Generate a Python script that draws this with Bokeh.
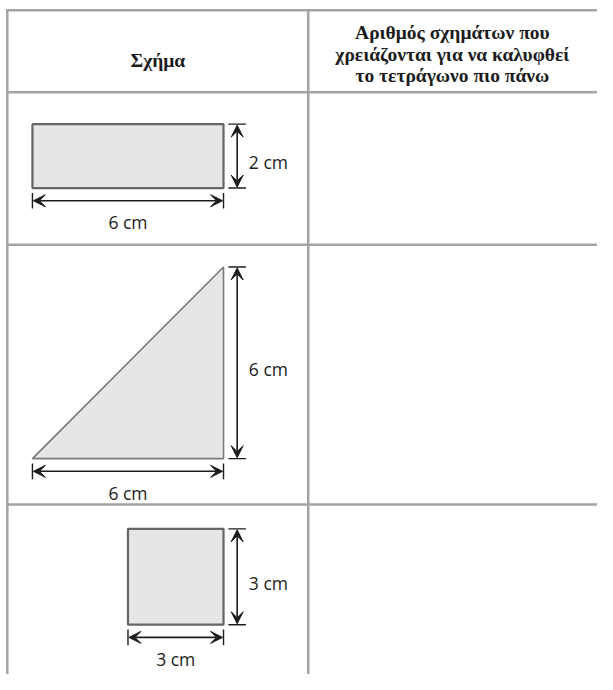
from bokeh.plotting import figure
from bokeh.models import Range1d, Arrow, VeeHead, ColumnDataSource
from bokeh.core.properties import value
from bokeh.embed import file_html
from bokeh.resources import INLINE

# ---- data ----
shapes = ["rectangle", "triangle", "square"]
width_cm = [6, 6, 3]
height_cm = [2, 6, 3]
width_labels = ["6 cm", "6 cm", "3 cm"]
height_labels = ["2 cm", "6 cm", "3 cm"]
header_left = "Σχήμα"
header_right = ["Αριθμός σχημάτων που", "χρειάζονται για να καλυφθεί", "το τετράγωνο πιο πάνω"]

# ---- layout (reference pixel frame 613 x 690) ----
PX_PER_CM = 32.7
SHAPE_RIGHT = 229
shape_bottom = [192, 469, 639]
TABLE_LEFT, TABLE_TOP, COL_X, RIGHT_END, PAGE_BOTTOM = 7, 10, 316, 613, 690
row_lines = [94, 250, 516]
GRID = "#a3a3a3"
INK = "#1c1c1c"

W, H = 597, 674
p = figure(width=W, height=H, output_backend="svg", toolbar_location=None,
           x_range=Range1d(0, 613), y_range=Range1d(690, 0),
           min_border=0, outline_line_color=None)
p.axis.visible = False
p.grid.visible = False
p.background_fill_color = "white"

# table grid
p.segment(x0=[TABLE_LEFT, TABLE_LEFT - 1] + [TABLE_LEFT] * len(row_lines) + [COL_X],
          y0=[TABLE_TOP - 1, TABLE_TOP] + row_lines + [TABLE_TOP],
          x1=[TABLE_LEFT, RIGHT_END] + [RIGHT_END] * len(row_lines) + [COL_X],
          y1=[PAGE_BOTTOM, TABLE_TOP] + row_lines + [PAGE_BOTTOM],
          line_color=GRID, line_width=2.5)

# header texts
p.text(x=[(TABLE_LEFT + COL_X) / 2], y=[61], text=[header_left],
       text_font=value("Liberation Serif"), text_font_style="bold",
       text_font_size="19.5px", text_align="center", text_baseline="alphabetic",
       text_color=INK)
hr_x = 464
p.text(x=[hr_x] * 3, y=[33, 55, 77], text=header_right,
       text_font=value("Liberation Serif"), text_font_style="bold",
       text_font_size="19.5px", text_align="center", text_baseline="alphabetic",
       text_color=INK)

# shapes
for kind, wcm, hcm, bot in zip(shapes, width_cm, height_cm, shape_bottom):
    w = wcm * PX_PER_CM
    h = hcm * PX_PER_CM
    left = SHAPE_RIGHT - w
    top = bot - h
    if kind == "triangle":
        p.patch(x=[left, SHAPE_RIGHT, SHAPE_RIGHT], y=[bot, top, bot],
                fill_color="#e6e6e6", line_color="#7a7a7a", line_width=1.6)
    else:
        p.quad(left=[left], right=[SHAPE_RIGHT], top=[top], bottom=[bot],
               fill_color="#e6e6e6", line_color="#666666", line_width=2.2)

# dimension lines
hx0, hx1, hy, vx, vy0, vy1 = [], [], [], [], [], []
tick_x0, tick_x1, tick_y0, tick_y1 = [], [], [], []
lab_hx, lab_hy, lab_vx, lab_vy = [], [], [], []
for wcm, hcm, bot in zip(width_cm, height_cm, shape_bottom):
    w = wcm * PX_PER_CM
    h = hcm * PX_PER_CM
    left = SHAPE_RIGHT - w
    top = bot - h
    ay = bot + 13
    hx0.append(left + 1); hx1.append(SHAPE_RIGHT - 1); hy.append(ay)
    vx.append(SHAPE_RIGHT + 14); vy0.append(top + 1); vy1.append(bot - 1)
    for xx in (left, SHAPE_RIGHT):
        tick_x0.append(xx); tick_x1.append(xx); tick_y0.append(ay - 8); tick_y1.append(ay + 8)
    for yy in (top, bot):
        tick_x0.append(SHAPE_RIGHT + 5); tick_x1.append(SHAPE_RIGHT + 23)
        tick_y0.append(yy); tick_y1.append(yy)
    lab_hx.append((left + SHAPE_RIGHT) / 2); lab_hy.append(bot + 35)
    lab_vx.append(SHAPE_RIGHT + 26); lab_vy.append((top + bot) / 2 + 6)

p.segment(x0=tick_x0, y0=tick_y0, x1=tick_x1, y1=tick_y1, line_color=INK, line_width=1.4)

hsrc = ColumnDataSource(dict(x0=hx0, x1=hx1, y=hy))
vsrc = ColumnDataSource(dict(x=vx, y0=vy0, y1=vy1))
for src, xs, ys, xe, ye in ((hsrc, "x0", "y", "x1", "y"), (vsrc, "x", "y0", "x", "y1")):
    p.add_layout(Arrow(source=src, x_start=xs, y_start=ys, x_end=xe, y_end=ye,
                       line_color=INK, line_width=1.6,
                       start=VeeHead(size=12, fill_color=INK, line_color=INK, line_width=1),
                       end=VeeHead(size=12, fill_color=INK, line_color=INK, line_width=1)))

p.text(x=lab_hx, y=lab_hy, text=width_labels, text_font=value("Open Sans"),
       text_font_size="17.5px", text_align="center", text_baseline="alphabetic",
       text_color=INK)
p.text(x=lab_vx, y=lab_vy, text=height_labels, text_font=value("Open Sans"),
       text_font_size="17.5px", text_align="left", text_baseline="alphabetic",
       text_color=INK)

open("out.html", "w").write(file_html(p, INLINE))
